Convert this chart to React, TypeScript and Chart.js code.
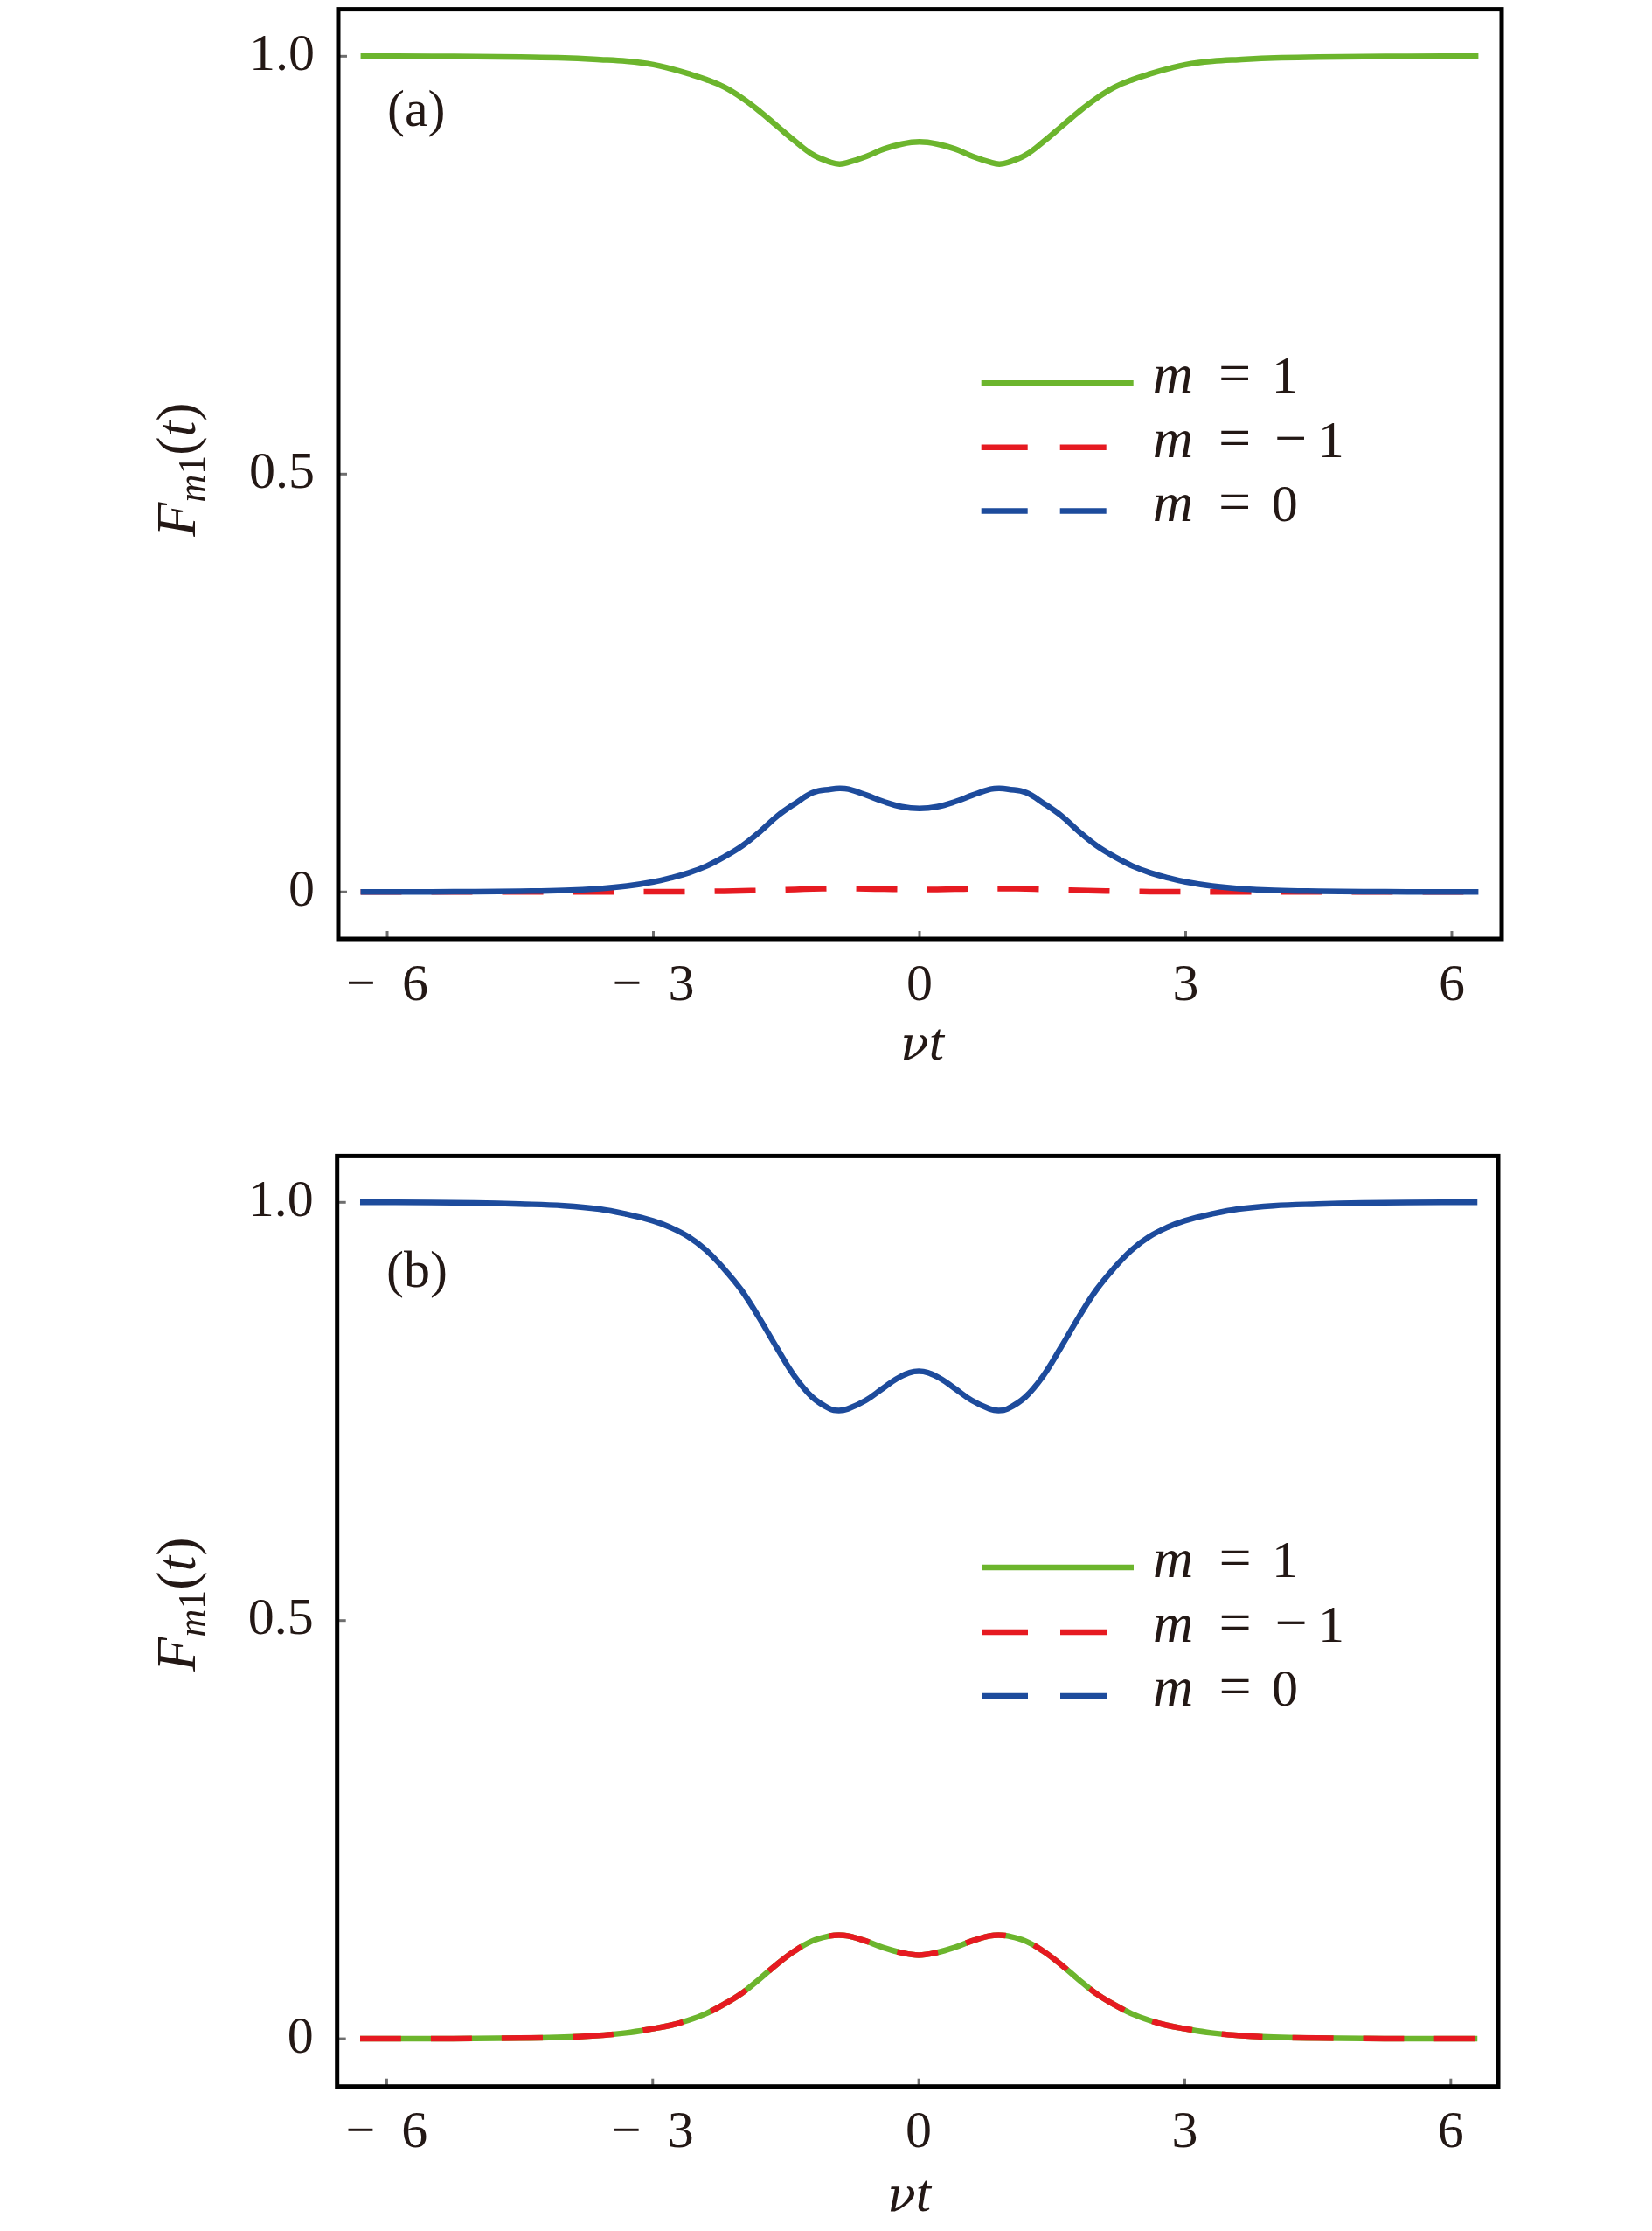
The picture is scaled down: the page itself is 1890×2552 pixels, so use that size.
import React, { useEffect, useRef } from 'react';
import { Chart, registerables } from 'chart.js';

Chart.register(...registerables);

// ---------- data ----------
const T = [
  -6.3, -5.5, -5.0, -4.5, -4.0, -3.6, -3.3, -3.0, -2.8, -2.6, -2.4, -2.2, -2.0, -1.8, -1.6, -1.4, -1.2, -1.0, -0.9, -0.8, -0.6, -0.4, -0.2,
  0,
  0.2, 0.4, 0.6, 0.8, 0.9, 1.0, 1.2, 1.4, 1.6, 1.8, 2.0, 2.2, 2.4, 2.6, 2.8, 3.0, 3.3, 3.6, 4.0, 4.5, 5.0, 5.5, 6.3,
];

// panel (a)
const A_M1 = [
  1.0, 0.9999, 0.9996, 0.999, 0.998, 0.996, 0.994, 0.99, 0.985, 0.979, 0.972, 0.963, 0.95, 0.934, 0.916, 0.898, 0.882, 0.873, 0.871, 0.873, 0.88, 0.889, 0.895,
  0.8975,
  0.895, 0.889, 0.88, 0.873, 0.871, 0.873, 0.882, 0.898, 0.916, 0.934, 0.95, 0.963, 0.972, 0.979, 0.985, 0.99, 0.994, 0.996, 0.998, 0.999, 0.9996, 0.9999, 1.0,
];
const A_MM1 = [
  0, 0, 0, 0, 0, 0, 0.0001, 0.0002, 0.0003, 0.0004, 0.0006, 0.0009, 0.0013, 0.0018, 0.0024, 0.003, 0.0036, 0.004, 0.004, 0.004, 0.0037, 0.0033, 0.003,
  0.003,
  0.003, 0.0033, 0.0037, 0.004, 0.004, 0.004, 0.0036, 0.003, 0.0024, 0.0018, 0.0013, 0.0009, 0.0006, 0.0004, 0.0003, 0.0002, 0.0001, 0, 0, 0, 0, 0, 0,
];
const A_M0 = [
  0, 0.0001, 0.0003, 0.0008, 0.0018, 0.004, 0.007, 0.012, 0.017, 0.023, 0.031, 0.042, 0.055, 0.072, 0.091, 0.106, 0.119, 0.123, 0.124, 0.123, 0.116, 0.108, 0.102,
  0.1,
  0.102, 0.108, 0.116, 0.123, 0.124, 0.123, 0.119, 0.106, 0.091, 0.072, 0.055, 0.042, 0.031, 0.023, 0.017, 0.012, 0.007, 0.004, 0.0018, 0.0008, 0.0003, 0.0001, 0,
];

// panel (b)
const B_M1 = [
  0, 0.0001, 0.0003, 0.0008, 0.0018, 0.004, 0.007, 0.012, 0.016, 0.022, 0.03, 0.041, 0.054, 0.071, 0.089, 0.105, 0.117, 0.123, 0.124, 0.123, 0.117, 0.109, 0.103,
  0.1,
  0.103, 0.109, 0.117, 0.123, 0.124, 0.123, 0.117, 0.105, 0.089, 0.071, 0.054, 0.041, 0.03, 0.022, 0.016, 0.012, 0.007, 0.004, 0.0018, 0.0008, 0.0003, 0.0001, 0,
];
const B_MM1 = [
  0, 0.0001, 0.0003, 0.0008, 0.0018, 0.004, 0.007, 0.012, 0.016, 0.022, 0.03, 0.041, 0.054, 0.071, 0.089, 0.105, 0.117, 0.123, 0.124, 0.123, 0.117, 0.109, 0.103,
  0.1,
  0.103, 0.109, 0.117, 0.123, 0.124, 0.123, 0.117, 0.105, 0.089, 0.071, 0.054, 0.041, 0.03, 0.022, 0.016, 0.012, 0.007, 0.004, 0.0018, 0.0008, 0.0003, 0.0001, 0,
];
const B_M0 = [
  1.0, 0.9998, 0.9993, 0.998, 0.996, 0.992, 0.986, 0.978, 0.97, 0.959, 0.943, 0.921, 0.895, 0.862, 0.826, 0.792, 0.767, 0.753, 0.751, 0.753, 0.763, 0.778, 0.792,
  0.798,
  0.792, 0.778, 0.763, 0.753, 0.751, 0.753, 0.767, 0.792, 0.826, 0.862, 0.895, 0.921, 0.943, 0.959, 0.97, 0.978, 0.986, 0.992, 0.996, 0.998, 0.9993, 0.9998, 1.0,
];

const X_TICKS = [-6, -3, 0, 3, 6];
const X_TICK_LABELS = ['\u2212\u20026', '\u2212\u20023', '0', '3', '6'];
const Y_TICKS = [0, 0.5, 1.0];
const Y_TICK_LABELS = ['0', '0.5', '1.0'];
const LEGEND_VALUES = ['1', '\u22121', '0'];
const SERIES_NAMES = ['m = 1', 'm = \u22121', 'm = 0'];
const PANEL_TAGS = ['(a)', '(b)'];

// ---------- styles ----------
const GREEN = '#6cb52d';
const RED = '#e61a21';
const BLUE = '#1d4b9c';
const INK = '#231815';
const TICK_GRAY = '#6e6e6e';
const FONT = "'Liberation Serif', 'Times New Roman', serif";
const GREEK_FONT = "'DejaVu Serif', 'Liberation Serif', serif";
const LINE_W = 6.5;
const CURVE_DASH = [47, 34];
const LEGEND_DASH = [53, 37];

type PanelCfg = {
  top: number;
  height: number;
  area: { l: number; t: number; r: number; b: number };
  xMin: number;
  xMax: number;
  yMin: number;
  yMax: number;
  tag: string;
  tagPos: [number, number];
  legendX: number;
  legendY: number[];
  yTitle: [number, number];
  xTitle: [number, number];
  m1: number[];
  mm1: number[];
  m0: number[];
};

const PANELS: PanelCfg[] = [
  {
    top: 0,
    height: 1276,
    area: { l: 387, t: 10.6, r: 1718, b: 1074 },
    xMin: -6.552,
    xMax: 6.562,
    yMin: -0.0562,
    yMax: 1.0562,
    tag: PANEL_TAGS[0],
    tagPos: [443, 128],
    legendX: 1122.7,
    legendY: [438.3, 511.7, 584.5],
    yTitle: [223, 537],
    xTitle: [1055, 1212],
    m1: A_M1,
    mm1: A_MM1,
    m0: A_M0,
  },
  {
    top: 1276,
    height: 1276,
    area: { l: 385.7, t: 46.4, r: 1714, b: 1110.7 },
    xMin: -6.559,
    xMax: 6.534,
    yMin: -0.0571,
    yMax: 1.0553,
    tag: PANEL_TAGS[1],
    tagPos: [442, 180],
    legendX: 1123,
    legendY: [517, 591, 664],
    yTitle: [223, 559],
    xTitle: [1040, 1253],
    m1: B_M1,
    mm1: B_MM1,
    m0: B_M0,
  },
];

function toPts(ys: number[]) {
  return T.map((x, i) => ({ x, y: ys[i] }));
}

type Piece = { text: string; italic?: boolean; size: number; dy?: number; family?: string };

function drawPieces(ctx: CanvasRenderingContext2D, pieces: Piece[], cx: number) {
  const fontOf = (p: Piece) => `${p.italic ? 'italic ' : ''}${p.size}px ${p.family || FONT}`;
  const widths = pieces.map((p) => {
    ctx.font = fontOf(p);
    return ctx.measureText(p.text).width;
  });
  const total = widths.reduce((a, b) => a + b, 0);
  let x = cx - total / 2;
  pieces.forEach((p, i) => {
    ctx.font = fontOf(p);
    ctx.fillText(p.text, x, p.dy || 0);
    x += widths[i];
  });
}

function makeDeco(p: PanelCfg) {
  return {
    id: 'deco',
    afterDatasetsDraw(chart: any) {
      const ctx: CanvasRenderingContext2D = chart.ctx;
      const { left, right, top, bottom } = chart.chartArea;
      const xs = chart.scales.x;
      const ys = chart.scales.y;
      ctx.save();
      // inner tick marks
      ctx.strokeStyle = TICK_GRAY;
      ctx.lineWidth = 3;
      X_TICKS.forEach((v) => {
        const px = xs.getPixelForValue(v);
        ctx.beginPath();
        ctx.moveTo(px, bottom);
        ctx.lineTo(px, bottom - 9);
        ctx.stroke();
      });
      Y_TICKS.forEach((v) => {
        const py = ys.getPixelForValue(v);
        ctx.beginPath();
        ctx.moveTo(left, py);
        ctx.lineTo(left + 10, py);
        ctx.stroke();
      });
      // frame
      ctx.strokeStyle = '#000';
      ctx.lineWidth = 5;
      ctx.strokeRect(left, top, right - left, bottom - top);

      // panel tag
      ctx.fillStyle = INK;
      ctx.textBaseline = 'middle';
      ctx.textAlign = 'left';
      ctx.font = `60px ${FONT}`;
      ctx.fillText(p.tag, p.tagPos[0], p.tagPos[1]);

      // legend
      const ds = chart.data.datasets;
      const legendDashed = [false, true, true];
      ctx.lineCap = 'butt';
      for (let i = 0; i < 3; i++) {
        const y = p.legendY[i];
        ctx.strokeStyle = ds[i].borderColor;
        ctx.lineWidth = LINE_W;
        ctx.setLineDash(legendDashed[i] ? LEGEND_DASH : []);
        ctx.beginPath();
        ctx.moveTo(p.legendX, y);
        ctx.lineTo(p.legendX + (legendDashed[i] ? 143.3 : 174), y);
        ctx.stroke();
        ctx.setLineDash([]);
        const tx = p.legendX + 196;
        const by = y + 11;
        ctx.textBaseline = 'alphabetic';
        ctx.fillStyle = INK;
        ctx.textAlign = 'left';
        ctx.font = `italic 64px ${FONT}`;
        ctx.fillText('m', tx, by);
        ctx.textAlign = 'center';
        ctx.font = `66px ${FONT}`;
        ctx.fillText('=', tx + 94, by);
        const val = LEGEND_VALUES[i];
        ctx.font = `60px ${FONT}`;
        if (val.length > 1) {
          ctx.font = `66px ${FONT}`;
          ctx.fillText('\u2212', tx + 158, by);
          ctx.font = `60px ${FONT}`;
          ctx.fillText(val.slice(1), tx + 204, by);
        } else {
          ctx.fillText(val, tx + 151, by);
        }
      }

      // y title  F_{m1}(t)
      ctx.save();
      ctx.translate(p.yTitle[0], p.yTitle[1]);
      ctx.rotate(-Math.PI / 2);
      ctx.textAlign = 'left';
      ctx.textBaseline = 'alphabetic';
      ctx.fillStyle = INK;
      drawPieces(
        ctx,
        [
          { text: 'F', italic: true, size: 64 },
          { text: 'm', italic: true, size: 44, dy: 11 },
          { text: '1', size: 44, dy: 11 },
          { text: '(', size: 64 },
          { text: 't', italic: true, size: 64 },
          { text: ')', size: 64 },
        ],
        0
      );
      ctx.restore();

      // x title  νt
      ctx.save();
      ctx.translate(0, p.xTitle[1]);
      ctx.textAlign = 'left';
      ctx.textBaseline = 'alphabetic';
      ctx.fillStyle = INK;
      drawPieces(
        ctx,
        [
          { text: '\u03bd', italic: true, size: 54, family: GREEK_FONT },
          { text: 't', italic: true, size: 62 },
        ],
        p.xTitle[0]
      );
      ctx.restore();

      ctx.restore();
    },
  };
}

function Panel({ cfg }: { cfg: PanelCfg }) {
  const ref = useRef<HTMLCanvasElement | null>(null);
  useEffect(() => {
    if (!ref.current) return;
    const W = 1890;
    const H = cfg.height;
    const common = {
      borderWidth: LINE_W,
      pointRadius: 0,
      fill: false,
      tension: 0.4,
    };
    const chart = new Chart(ref.current, {
      type: 'line',
      data: {
        datasets: [
          { ...common, label: SERIES_NAMES[0], data: toPts(cfg.m1), borderColor: GREEN, order: 3 },
          { ...common, label: SERIES_NAMES[1], data: toPts(cfg.mm1), borderColor: RED, borderDash: CURVE_DASH, order: 2 },
          { ...common, label: SERIES_NAMES[2], data: toPts(cfg.m0), borderColor: BLUE, order: 1 },
        ],
      },
      options: {
        animation: false,
        responsive: false,
        devicePixelRatio: 1,
        events: [],
        layout: {
          padding: { left: 0, top: cfg.area.t, right: W - cfg.area.r, bottom: 0 },
        },
        plugins: {
          legend: { display: false },
          tooltip: { enabled: false },
          title: { display: false },
        },
        scales: {
          x: {
            type: 'linear',
            min: cfg.xMin,
            max: cfg.xMax,
            afterBuildTicks: (s: any) => {
              s.ticks = X_TICKS.map((v) => ({ value: v }));
            },
            ticks: {
              autoSkip: false,
              maxRotation: 0,
              padding: 18,
              color: INK,
              font: { family: FONT, size: 60 },
              callback: (_v: any, i: number) => X_TICK_LABELS[i],
            },
            grid: { display: false, drawTicks: false },
            border: { display: false },
            afterFit: (s: any) => {
              s.height = H - cfg.area.b;
              s.paddingLeft = 0;
              s.paddingRight = 0;
              s.paddingTop = 0;
              s.paddingBottom = 0;
            },
          },
          y: {
            type: 'linear',
            min: cfg.yMin,
            max: cfg.yMax,
            afterBuildTicks: (s: any) => {
              s.ticks = Y_TICKS.map((v) => ({ value: v }));
            },
            ticks: {
              autoSkip: false,
              padding: 27,
              color: INK,
              font: { family: FONT, size: 60 },
              callback: (_v: any, i: number) => Y_TICK_LABELS[i],
            },
            grid: { display: false, drawTicks: false },
            border: { display: false },
            afterFit: (s: any) => {
              s.width = cfg.area.l;
              s.paddingLeft = 0;
              s.paddingRight = 0;
              s.paddingTop = 0;
              s.paddingBottom = 0;
            },
          },
        },
      } as any,
      plugins: [makeDeco(cfg)],
    });
    return () => chart.destroy();
  }, [cfg]);
  return (
    <canvas
      ref={ref}
      width={1890}
      height={cfg.height}
      style={{ position: 'absolute', left: 0, top: cfg.top, width: 1890, height: cfg.height }}
    />
  );
}

export default function App() {
  return (
    <div style={{ position: 'absolute', left: 0, top: 0, width: 1890, height: 2552, background: '#fff' }}>
      {PANELS.map((p, i) => (
        <Panel key={i} cfg={p} />
      ))}
    </div>
  );
}
